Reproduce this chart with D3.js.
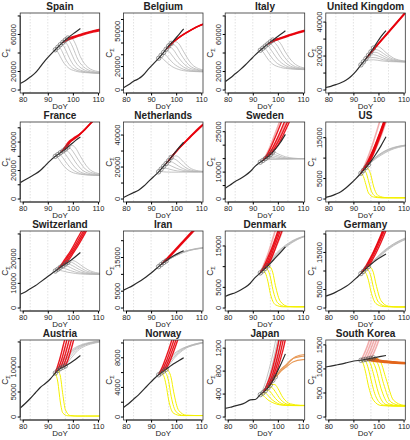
<!DOCTYPE html>
<html><head><meta charset="utf-8">
<script src="https://cdn.jsdelivr.net/npm/d3@7"></script>
<style>body{margin:0;background:#fff} svg{display:block} text{font-family:"Liberation Sans",Arial,Helvetica,sans-serif;fill:#222}</style>
</head><body><svg id="c" width="410" height="440"></svg>
<script>
// ---------- data ----------
const days = [79,81,83,85,87,89,91,93,95,97,99,101,103];
const projOffsets = [0,1,2,3,5,8,12,18];
const gridDays = [83,90,97,104];
const xTickVals = [80,90,100,110];

const names = ["Spain","Belgium","Italy","United Kingdom","France","Netherlands","Sweden","US",
  "Switzerland","Iran","Denmark","Germany","Austria","Norway","Japan","South Korea"];
const yMaxs = [80000,63000,80000,43600,52000,46300,27500,18100,30000,22000,17900,20000,14800,10000,1290,1540];
const ySteps = [20000,10000,20000,10000,10000,10000,5000,5000,10000,5000,5000,5000,5000,2000,400,500];
const yLabels = [[0,20000,60000],[0,20000,50000],[0,20000,60000],[0,20000,40000],
  [0,20000,40000],[0,20000,40000],[0,10000,25000],[0,5000,15000],
  [0,10000,20000],[0,5000,15000],[0,5000,15000],[0,5000,15000],
  [0,5000,10000],[0,4000,8000],[0,400,800,1200],[0,500,1000,1500]];

const spainObs = [7000,10000,14000,18500,25000,32000,38000,43500,49000,54000,58500,62500,66500];
const spainGray = [[93,43500,41000,36000,31000,24500,20500,18800,18000],[94,46200,45000,40000,34000,26000,21000,19000,18000],[95,49000,48500,44000,38000,28000,21500,19000,18000],[96,51500,51500,48000,42000,30500,22500,19200,18000],[97,54000,54500,51500,46000,33000,23500,19500,18200],[98,56200,57000,55000,50000,36000,24500,20000,18500]];
const spainRed = [[96,51500,52800,54000,55000,57000,59500,62500,65500],[97,54000,55000,56000,57000,58800,61200,64000,67000],[98,56200,56900,57700,58500,60200,62500,65200,68000]];

const belgiumObs = [2000,4500,7500,9500,13000,18000,22500,27000,32000,37500,42000,47000,52000];
const belgiumGray = [[93,27000,27500,26000,24000,20500,17500,16000,15500],[94,29500,30500,29500,27000,22500,18500,16200,15500],[95,32000,33500,33000,30500,25000,19500,16500,15600],[96,34700,36000,36000,34000,27500,20500,17000,15600],[97,37500,38500,38500,37000,30000,21500,17200,15700],[98,39700,41000,41000,39500,32500,22500,17500,15800]];
const belgiumRed = [[96,34700,36800,39000,41000,44500,48500,53500,58000],[97,37500,39300,41000,42800,46000,50000,54500,58500],[98,39700,41300,43000,44600,47500,51200,55500,59500]];

const italyObs = [9000,13000,17500,22000,27000,32500,38000,43000,47500,52000,56000,60000,64000];
const italyGray = [[93,43000,41500,37500,33500,28000,24500,22800,22000],[94,45200,44500,41000,37000,30500,25500,23000,22000],[95,47500,47500,44500,40500,33000,26500,23300,22000],[96,49700,50000,47500,44000,35500,27500,23500,22100],[97,52000,52500,50500,47000,38000,28500,23800,22200],[98,54000,54800,53500,50500,41000,30000,24200,22300]];
const italyRed = [[96,49700,51000,52200,53300,55300,58000,61500,65500],[97,52000,53000,54000,55000,56900,59500,62800,66500],[98,54000,54800,55600,56400,58200,60800,64000,67500]];

const ukObs = [1500,2200,3200,4300,5800,8000,11000,14800,18500,22500,27000,31500,35000];
const ukGray = [[93,14800,16000,17000,17600,17800,17200,16700,16500],[94,16600,17800,18700,19200,19000,17800,16900,16500],[95,18500,19800,20600,20800,20000,18200,17000,16500],[96,20500,21600,22200,22200,20800,18500,17100,16500],[97,22500,23400,23800,23400,21500,18700,17200,16500],[98,24700,25500,25500,24700,22000,18800,17200,16500]];
const ukRed = [[95,18500,20200,21900,23600,27000,32100,38900,49100],[96,20500,22200,23900,25600,29000,34100,40900,51100],[97,22500,24200,25900,27600,31000,36100,42900,53100]];

const franceObs = [11500,13500,15500,17500,20000,23500,27000,30000,32500,35000,38000,41000,43500];
const franceGray = [[93,30000,29000,26500,24000,20500,18000,17000,16500],[94,31200,31000,29000,26500,22000,18500,17000,16500],[95,32500,33000,31500,29000,24000,19000,17200,16500],[96,33700,34500,33500,31500,26000,20000,17500,16600],[97,35000,36000,35500,33500,28000,21000,17800,16600],[98,36500,37500,37500,36000,30000,22000,18000,16700]];
const franceRed = [[95,32500,34500,37000,39500,42500,46000,53000,62000],[96,33700,36000,38500,40500,43000,47500,55000,64000],[97,35000,37500,40000,41500,44000,49000,56500,66000]];

const netherlandsObs = [1000,2500,4000,5500,8000,11000,14000,17000,20500,24000,28000,32000,35500];
const netherlandsGray = [[93,17000,17200,17000,16900,16800,16800,16900,17000],[94,18700,19300,19200,18800,18000,17300,17000,17000],[95,20500,21300,21300,20700,19300,17800,17100,17000],[96,22200,23200,23300,22600,20500,18200,17200,17000],[97,24000,25000,25200,24500,21800,18600,17300,17000],[98,26000,26800,27000,26200,23000,19000,17400,17000]];
const netherlandsRed = [[96,22200,24000,26000,28000,31500,36500,43000,51000],[97,24000,26000,28000,29800,33200,38000,44000,52000],[98,26000,27800,29600,31400,34600,39200,45200,53000]];

const swedenObs = [4000,5200,6500,7500,8700,10200,12200,13700,15000,16500,18500,21000,24000];
const swedenGray = [[93,13700,14200,14500,14600,14700,14800,14900,15000],[94,14300,14800,15000,15000,14900,14900,14900,15000],[95,15000,15400,15500,15400,15100,15000,15000,15000],[96,15700,16000,16000,15800,15300,15000,15000,15000],[97,16500,16600,16400,16100,15500,15100,15000,15000],[98,17500,17300,16800,16400,15700,15200,15000,15000]];
const swedenRed = [[94,14300,15500,17000,18800,23000,30000,40000,55000],[95,15000,16200,17600,19200,23000,29500,39000,53000],[96,15700,16800,18000,19500,23000,29000,38000,51000],[97,16500,17500,18700,20000,23500,29500,38000,50000]];
const swedenPink = [[94,14300,15800,17600,19700,24500,32000,43000,58000],[95,15000,16000,17200,18600,22000,28000,37000,50000]];

const usObs = [400,700,1200,1800,2700,3800,5000,6300,7700,9200,11000,13000,15200];
const usGray = [[93,6300,7000,7700,8300,9400,10700,12000,13000],[94,7000,7700,8400,9000,10100,11300,12400,13200],[95,7700,8400,9100,9700,10700,11800,12700,13300],[96,8400,9100,9700,10300,11200,12200,12900,13400]];
const usRed = [[93,6300,7300,8400,9600,12300,17000,24000,35000],[94,7000,8100,9300,10600,13500,18500,26000,37000],[95,7700,8900,10200,11600,14700,20000,28000,40000],[96,8400,9700,11100,12600,15800,21500,30000,42000]];
const usPink = [[93,6300,7600,9000,10500,14000,20000,29000,42000],[94,7000,8000,9000,10200,13000,17800,25000,36000],[95,7700,8700,9800,11000,13800,18800,26500,38000]];
const usYellow = [[93,6300,5500,3500,1500,500,300,300,300],[94,7000,6500,4500,2200,600,300,300,300],[95,7700,7300,5800,3200,800,350,300,300]];

const switzerlandObs = [5600,6500,7800,9000,10500,12000,13500,15000,16500,17800,19200,20800,22500];
const switzerlandGray = [[93,15000,15300,15200,15000,14500,14000,13700,13600],[94,15700,16200,16200,15900,15200,14300,13800,13600],[95,16500,17100,17200,16900,15900,14600,13900,13600],[96,17100,17700,17900,17600,16500,14900,14000,13600],[97,17800,18400,18600,18300,17000,15200,14100,13600],[98,18500,19000,19200,18900,17500,15500,14200,13700]];
const switzerlandRed = [[94,15700,17000,18500,20000,23000,28500,35500,44000],[95,16500,17800,19200,20700,23800,29000,36000,45000],[96,17100,18400,19800,21300,24500,29700,37000,46000],[97,17800,19000,20400,22000,25200,30500,38000,47000]];

const iranObs = [5300,6000,6800,7700,8700,9800,11000,12300,13500,14600,15500,16300,17000];
const iranGray = [[93,12300,12900,13500,14000,15000,16200,17200,18000],[94,12900,13400,13900,14400,15300,16400,17300,18000],[95,13500,14000,14400,14800,15600,16600,17400,18000],[96,14000,14400,14800,15200,15900,16800,17500,18000]];
const iranRed = [[94,12900,13700,14500,15300,16900,19300,22500,27000],[95,13500,14300,15100,15900,17500,19900,23100,27500],[96,14000,14800,15600,16400,18000,20400,23600,28000]];

const denmarkObs = [2800,3300,3700,4300,5000,6000,7400,8500,9600,10800,12100,13400,14800];
const denmarkGray = [[93,8500,9400,10200,11000,12400,14200,16000,17500],[94,9000,9900,10700,11400,12800,14500,16200,17600],[95,9600,10400,11200,11900,13200,14800,16400,17700],[96,10200,11000,11700,12300,13600,15100,16600,17800]];
const denmarkRed = [[93,8500,9600,10800,12200,15200,20500,29000,41000],[94,9000,10200,11500,13000,16200,21500,30000,42000],[95,9600,10800,12200,13800,17000,22500,31000,43000],[96,10200,11400,12800,14400,17600,23000,32000,44000]];
const denmarkPink = [[93,8500,9900,11400,13000,16800,23000,33000,46000],[95,9600,10600,11700,13000,15800,20500,28000,40000]];
const denmarkYellow = [[94,9000,8500,6500,3500,800,300,300,300],[95,9600,9200,7500,4500,1200,350,300,300],[96,10200,9900,8500,5500,1600,400,300,300]];

const germanyObs = [3200,3700,4300,5000,5800,6800,8000,9300,10600,11800,12900,13800,14600];
const germanyGray = [[93,9300,10000,10700,11400,12800,14800,16900,19000],[94,9900,10600,11300,12000,13300,15200,17200,19100],[95,10600,11200,11900,12500,13800,15600,17400,19200],[96,11200,11800,12400,13000,14200,15900,17600,19300]];
const germanyRed = [[93,9300,10300,11400,12600,15200,19800,27000,38000],[94,9900,11000,12200,13500,16300,21000,28500,40000],[95,10600,11700,12900,14200,17100,22000,29500,41000],[96,11200,12300,13500,14800,17700,22700,30500,42000]];
const germanyYellow = [[94,9900,9400,7500,4500,1200,400,300,300],[95,10600,10200,8500,5500,1600,450,300,300],[96,11200,10900,9500,6500,2000,500,300,300]];

const austriaObs = [1800,2700,3700,4800,5900,6700,7600,8800,9700,10200,10800,11500,12300];
const austriaGray = [[93,8800,9800,10800,11600,12800,13900,14700,15200],[94,9300,10200,11000,11800,12900,14000,14700,15200],[95,9700,10500,11300,12000,13100,14100,14800,15200],[96,9950,10700,11400,12100,13200,14200,14800,15200],[97,10200,10900,11600,12200,13300,14200,14800,15200]];
const austriaRed = [[93,8800,10300,12000,14000,18000,25000,35000,50000],[94,9300,10700,12300,14200,18200,25200,35000,50000],[95,9700,11000,12600,14400,18400,25400,35000,50000],[96,9950,11200,12800,14600,18600,25600,35000,50000],[97,10200,11400,13000,14800,18800,25800,35000,50000]];
const austriaYellow = [[93,8800,7000,3000,800,250,200,200,200],[94,9300,8200,4500,1500,300,200,200,200]];

const norwayObs = [1300,1800,2400,3000,3700,4400,5100,5700,6200,6700,7200,7600,8000];
const norwayGray = [[93,5700,6300,6900,7400,8200,9000,9600,10100],[94,5950,6500,7050,7550,8300,9100,9700,10150],[95,6200,6700,7200,7700,8400,9200,9700,10150],[96,6450,6900,7400,7850,8550,9300,9800,10200]];
const norwayRed = [[93,5700,6400,7200,8100,10100,13800,19000,27000],[94,5950,6650,7450,8350,10300,14000,19200,27000],[95,6200,6900,7700,8600,10500,14200,19400,27000],[96,6450,7150,7950,8850,10800,14500,19600,27000]];
const norwayYellow = [[94,5950,5600,4300,2300,500,200,200,200],[95,6200,5900,4800,2800,700,200,200,200],[96,6450,6200,5300,3400,900,250,200,200]];

const japanObs = [150,170,195,215,250,300,305,390,460,560,720,900,1100];
const japanGray = [[93,390,480,600,750,1100,1800,3000,5000],[94,420,510,630,780,1150,1900,3100,5000],[95,460,550,670,820,1200,2000,3200,5000],[96,510,600,720,870,1250,2000,3200,5000]];
const japanRed = [[94,420,500,600,720,1050,1700,2700,4000],[95,460,540,640,760,1080,1700,2700,4000],[96,510,590,690,810,1120,1750,2700,4000],[97,560,640,740,860,1160,1800,2800,4000]];
const japanYellow = [[93,390,380,340,300,250,210,200,200],[94,420,420,380,330,260,210,200,200],[95,460,470,440,380,280,215,200,200],[96,510,520,500,440,310,220,200,200],[97,560,570,560,500,340,230,205,200]];
const japanOrange = [[98,640,700,760,820,900,1020,1060,1080],[99,700,740,790,840,930,1050,1090,1100],[98,640,690,740,790,860,960,1000,1010]];

const koreaObs = [1040,1060,1080,1100,1125,1150,1170,1180,1200,1220,1240,1260,1280];
const koreaPink = [[93,1180,1280,1400,1540,1900,2600,3600,5000],[94,1190,1290,1410,1550,1910,2600,3600,5000],[95,1200,1300,1420,1560,1920,2600,3600,5000],[96,1210,1310,1430,1570,1930,2600,3600,5000],[97,1220,1320,1440,1580,1940,2600,3600,5000]];
const koreaYellow = [[93,1180,1100,900,650,350,240,230,230],[94,1190,1150,1000,780,420,250,230,230],[95,1200,1180,1080,900,500,260,230,230],[96,1210,1200,1130,1000,600,280,235,230],[97,1220,1215,1170,1080,700,310,240,230],[98,1230,1225,1200,1130,800,350,245,230]];
const koreaOrange = [[95,1200,1190,1175,1165,1150,1135,1120,1110],[96,1210,1195,1180,1170,1155,1140,1125,1115],[97,1220,1200,1185,1170,1155,1140,1125,1115],[98,1230,1210,1190,1175,1160,1145,1130,1120]];

const obsList = [spainObs,belgiumObs,italyObs,ukObs,franceObs,netherlandsObs,swedenObs,usObs,
  switzerlandObs,iranObs,denmarkObs,germanyObs,austriaObs,norwayObs,japanObs,koreaObs];
const projList = [
  {gray:spainGray,red:spainRed},{gray:belgiumGray,red:belgiumRed},{gray:italyGray,red:italyRed},{gray:ukGray,red:ukRed},
  {gray:franceGray,red:franceRed},{gray:netherlandsGray,red:netherlandsRed},{gray:swedenGray,pink:swedenPink,red:swedenRed},{gray:usGray,yellow:usYellow,pink:usPink,red:usRed},
  {gray:switzerlandGray,red:switzerlandRed},{gray:iranGray,red:iranRed},{gray:denmarkGray,yellow:denmarkYellow,pink:denmarkPink,red:denmarkRed},{gray:germanyGray,yellow:germanyYellow,red:germanyRed},
  {gray:austriaGray,yellow:austriaYellow,red:austriaRed},{gray:norwayGray,yellow:norwayYellow,red:norwayRed},{gray:japanGray,yellow:japanYellow,orange:japanOrange,red:japanRed},{yellow:koreaYellow,pink:koreaPink,dorange:koreaOrange}];

// ---------- layout / style ----------
const colLeft = [20.2,123.5,225.2,325.8];
const rowTop = [13,122,231,340];
const pw = 79.5, ph = 80;
const styles = {
  gray:{c:"#b5b5b5",w:0.8,o:1}, yellow:{c:"#f4f000",w:1,o:1}, red:{c:"#e8000b",w:1.4,o:0.9},
  pink:{c:"#e86a6a",w:1.6,o:0.55}, orange:{c:"#e89a58",w:1.1,o:1}, dorange:{c:"#e2661c",w:1.8,o:1}
};
const order = ["gray","yellow","orange","pink","red","dorange"];

const svg = d3.select("#c");
const defs = svg.append("defs");

names.forEach((name,i)=>{
  const col=i%4,row=Math.floor(i/4);
  const L=colLeft[col],T=rowTop[row];
  const M=yMaxs[i];
  const x=d3.scaleLinear().domain([79,110.7]).range([L,L+pw]);
  const y=d3.scaleLinear().domain([-0.04*M,1.04*M]).range([T+ph,T]);
  const g=svg.append("g");
  const cid="clip"+i;
  defs.append("clipPath").attr("id",cid).append("rect").attr("x",L).attr("y",T).attr("width",pw).attr("height",ph);
  const pg=g.append("g").attr("clip-path",`url(#${cid})`);
  pg.selectAll(".gd").data(gridDays).enter().append("line")
    .attr("x1",d=>x(d)).attr("x2",d=>x(d)).attr("y1",T).attr("y2",T+ph)
    .attr("stroke","#d6d6d6").attr("stroke-width",0.7).attr("stroke-dasharray","1.5,1.5");
  const line=d3.line().x(d=>x(d[0])).y(d=>y(d[1])).curve(d3.curveMonotoneX);
  const P=projList[i];
  const starts=[];
  order.forEach(k=>{
    if(!P[k])return;
    P[k].forEach(p=>{
      const s=p[0];
      const pts=projOffsets.map((o,j)=>[s+o,p[j+1]]);
      starts.push([s,p[1]]);
      pg.append("path").attr("d",line(pts)).attr("fill","none")
        .attr("stroke",styles[k].c).attr("stroke-width",styles[k].w).attr("stroke-opacity",styles[k].o);
    });
  });
  pg.append("path").attr("d",line(days.map((d,j)=>[d,obsList[i][j]])))
    .attr("fill","none").attr("stroke","#2b2b2b").attr("stroke-width",1.2);
  const uniq=Array.from(new Map(starts.map(s=>[s[0],s])).values());
  pg.selectAll(".cc").data(uniq).enter().append("circle")
    .attr("cx",d=>x(d[0])).attr("cy",d=>y(d[1])).attr("r",2.2)
    .attr("fill","none").attr("stroke","#555").attr("stroke-width",0.6);
  g.append("rect").attr("x",L).attr("y",T).attr("width",pw).attr("height",ph)
    .attr("fill","none").attr("stroke","#333").attr("stroke-width",0.8);
  const xa=g.append("g").attr("transform",`translate(0,${T+ph})`)
    .call(d3.axisBottom(x).tickValues(xTickVals).tickSize(2.5).tickPadding(1.5));
  xa.select(".domain").attr("stroke","#333").attr("d",`M${x(80)},0H${x(110)}`);
  xa.selectAll("text").attr("font-size",7.5).style("font-family","Liberation Sans, Arial, sans-serif");
  const yt=d3.range(0,M*1.04+1,ySteps[i]);
  const ya=g.append("g").attr("transform",`translate(${L},0)`)
    .call(d3.axisLeft(y).tickValues(yt).tickSize(2.5).tickFormat(d=>yLabels[i].includes(d)?d3.format("d")(d):""));
  ya.select(".domain").attr("stroke","#333").attr("d",`M0,${y(0)}V${y(yt[yt.length-1])}`);
  ya.selectAll(".tick").attr("transform",null);
  ya.selectAll(".tick line").attr("y1",d=>y(d)).attr("y2",d=>y(d));
  ya.selectAll("text").attr("font-size",7.5).attr("text-anchor","middle")
    .attr("transform","rotate(-90)")
    .attr("x",d=>-y(d)).attr("y",-3.8).attr("dy",0)
    .style("font-family","Liberation Sans, Arial, sans-serif");
  g.append("text").attr("x",L+pw/2).attr("y",T-3.5).attr("text-anchor","middle")
    .attr("font-size",10).attr("font-weight","bold").text(name);
  g.append("text").attr("x",L+pw/2).attr("y",T+ph+16).attr("text-anchor","middle")
    .attr("font-size",8).text("DoY");
  const yl=g.append("text").attr("transform",`translate(${L-12},${T+ph/2}) rotate(-90)`)
    .attr("text-anchor","middle").attr("font-size",8.5);
  yl.append("tspan").text("C");
  yl.append("tspan").attr("font-size",5.5).attr("dy",2).text("Σ");
});
</script></body></html>
